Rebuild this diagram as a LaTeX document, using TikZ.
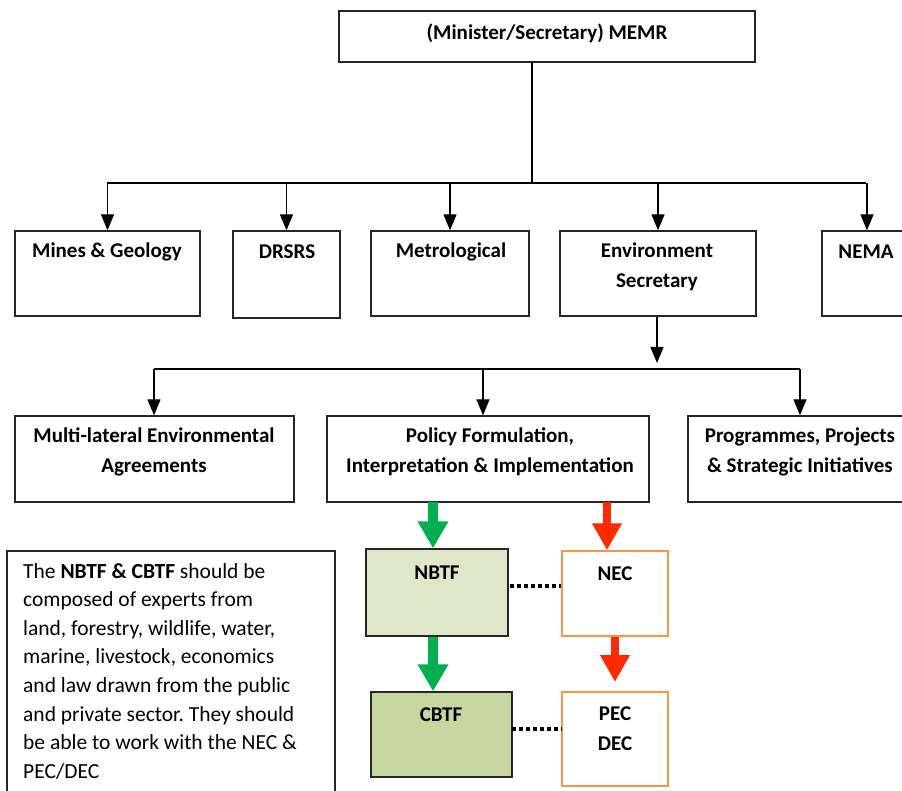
\documentclass[tikz,border=0pt]{standalone}
\usepackage{fontspec}
\setmainfont{Carlito}
\usetikzlibrary{arrows.meta}
\definecolor{grn}{HTML}{00B050}
\definecolor{rdd}{HTML}{FF2A00}
\definecolor{orng}{HTML}{F79646}
\definecolor{nbfill}{HTML}{DFE7C8}
\definecolor{cbfill}{HTML}{C6D8A0}
\newcommand{\mkbox}[6]{\node[#6, minimum width={#4-#2}, minimum height={#5-#3}] (#1) at ({(#2+#4)/2},{(#3+#5)/2}) {};}
\frenchspacing
\begin{document}
\begin{tikzpicture}[x=1pt,y=-1pt,
  bx/.style={draw=black!85, line width=1.3pt, rectangle, inner sep=0pt, fill=white},
  obx/.style={draw=orng, line width=1.4pt, rectangle, inner sep=0pt, fill=white},
  lbl/.style={font=\fontsize{21}{30}\selectfont\bfseries, align=center, inner sep=0pt},
  conn/.style={draw=black, line width=1.2pt},
  arr/.style={conn, -{Triangle[width=13pt,length=16pt]}},
  garr/.style={draw=grn, line width=10pt, -{Triangle[width=29pt,length=27pt]}},
  rarr/.style={draw=rdd, line width=8pt, -{Triangle[width=28pt,length=27pt]}},
  dotl/.style={draw=black, line width=4pt, dash pattern=on 4pt off 3pt}]
\useasboundingbox (0,0) rectangle (902,791);
% boxes
\mkbox{memr}{339}{11}{755}{62}{bx}
\mkbox{mines}{15}{231}{200}{316}{bx}
\mkbox{drsrs}{233}{231}{340}{318}{bx}
\mkbox{metro}{371}{231}{529}{316}{bx}
\mkbox{envs}{560}{231}{756}{316}{bx}
\mkbox{nema}{822}{231}{912}{316}{bx}
\mkbox{multi}{15}{416}{294}{502}{bx}
\mkbox{policy}{327}{416}{649}{502}{bx}
\mkbox{prog}{688}{416}{912}{502}{bx}
\mkbox{nbtf}{366}{549}{508}{636}{bx,fill=nbfill}
\mkbox{nec}{562}{551}{668}{636}{obx}
\mkbox{cbtf}{371}{692}{512}{777}{bx,fill=cbfill}
\mkbox{pec}{562}{692}{668}{786}{obx}
\mkbox{note}{7}{551}{335}{800}{bx}
% labels
\node[lbl] (memrt) at (547,33) {(Minister/Secretary) MEMR};
\node[lbl] (minest) at (107,252) {Mines \& Geology};
\node[lbl] (drsrst) at (287,252) {DRSRS};
\node[lbl] (metrot) at (451,252) {Metrological};
\node[lbl] (envst) at (657,267) {Environment\\Secretary};
\node[lbl] (nemat) at (866,252) {NEMA};
\node[lbl] (multit) at (154,452) {Multi-lateral Environmental\\Agreements};
\node[lbl] (policyt) at (490,452) {Policy Formulation,\\Interpretation \& Implementation};
\node[lbl] (progt) at (800,452) {Programmes, Projects\\\& Strategic Initiatives};
\node[lbl] (nbtft) at (437,573) {NBTF};
\node[lbl] (nect) at (615,574) {NEC};
\node[lbl] (cbtft) at (441,715) {CBTF};
\node[lbl] (pect) at (615,729) {PEC\\DEC};
\node[font=\fontsize{21.5}{28.6}\selectfont, align=left, inner sep=0pt, anchor=north west] (notet) at (23,563)
 {The \textbf{NBTF \& CBTF} should be\\composed of experts from\\land, forestry, wildlife, water,\\marine, livestock, economics\\and law drawn from the public\\and private sector. They should\\be able to work with the NEC \&\\PEC/DEC};
% connectors level 1
\coordinate (mo) at (532,62);
\coordinate (j1) at (532,183);
\coordinate (ja) at (107,183);
\coordinate (jb) at (866,183);
\draw[conn] (mo) -- (j1);
\draw[conn] (ja) -- (jb);
\draw[arr] (mines.north |- ja) -- (mines.north);
\draw[arr] (drsrs.north |- ja) -- (drsrs.north);
\draw[arr] (metro.north |- ja) -- (metro.north);
\draw[arr] (envs.north |- ja) -- (envs.north);
\draw[arr] (nema.north |- ja) -- (nema.north);
% connectors level 2
\coordinate (ea) at (657,363);
\draw[arr] (envs.south -| ea) -- (ea);
\coordinate (ha) at (154,369);
\coordinate (hb) at (800,369);
\coordinate (hc) at (483,369);
\draw[conn] (ha) -- (hb);
\draw[arr] (ha) -- (multi.north -| ha);
\draw[arr] (hc) -- (policy.north -| hc);
\draw[arr] (hb) -- (prog.north -| hb);
% coloured arrows
\coordinate (gx) at (433,502);
\coordinate (rx) at (607,502);
\coordinate (rend) at (615,682);
\draw[garr] (gx) -- (nbtf.north -| gx);
\draw[garr] (nbtf.south -| gx) -- (cbtf.north -| gx);
\draw[rarr] (rx) -- (nec.north -| rx);
\draw[rarr] (nec.south -| rend) -- (rend);
% dotted links
\coordinate (d1) at (510,586);
\coordinate (d2) at (512,729);
\draw[dotl] (d1) -- (nec.west |- d1);
\draw[dotl] (d2) -- (pec.west |- d2);
\end{tikzpicture}
\end{document}
